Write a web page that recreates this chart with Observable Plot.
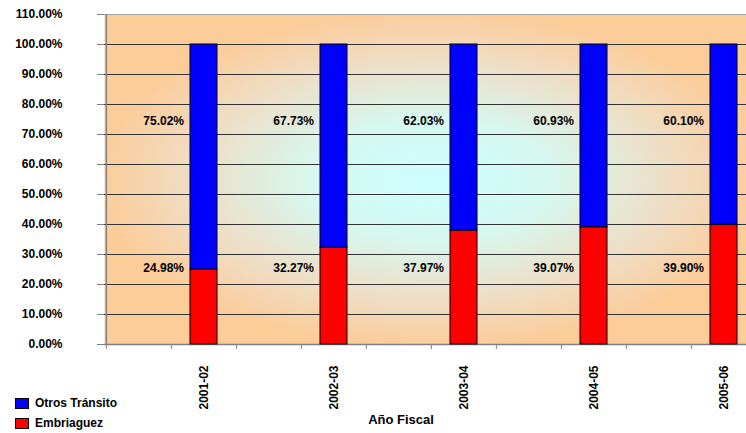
<!DOCTYPE html>
<html>
<head>
<meta charset="utf-8">
<script src="https://cdn.jsdelivr.net/npm/d3@7"></script>
<script src="https://cdn.jsdelivr.net/npm/@observablehq/plot@0.6"></script>
<style>
  html, body { margin: 0; padding: 0; background: #fff; overflow: hidden; }
  #wrap { position: relative; width: 746px; height: 433px; overflow: hidden; }
  #chart svg { max-width: none !important; display: block; }
  #legend { position: absolute; left: 15px; top: 393px; font: bold 12px "Liberation Sans", Arial, sans-serif; color: #000; }
  .li { display: flex; align-items: center; height: 20px; }
  .sw { width: 12px; height: 9px; border: 1px solid #000; margin-right: 6px; }
</style>
</head>
<body>
<div id="wrap">
  <div id="chart"></div>
  <div id="legend"></div>
</div>
<script>
// ---- data ----
const years = ["2001-02", "2002-03", "2003-04", "2004-05", "2005-06"];
const embriaguez = [24.98, 32.27, 37.97, 39.07, 39.90];
const otrosTransito = [75.02, 67.73, 62.03, 60.93, 60.10];
const seriesNames = ["Embriaguez", "Otros Tránsito"];
const seriesColors = ["#ff0000", "#0000ff"];
const yTicks = [0, 10, 20, 30, 40, 50, 60, 70, 80, 90, 100, 110];

// slots: an empty slot before each fiscal year (as in the original chart)
const slots = years.flatMap((y, i) => ["_gap" + i, y]);

const rows = [];
years.forEach((y, i) => {
  rows.push({year: y, serie: seriesNames[0], value: embriaguez[i]});
  rows.push({year: y, serie: seriesNames[1], value: otrosTransito[i]});
});

const W = 758, H = 433, ML = 104, MR = 1, MT = 14, MB = 89;
const bw = (W - ML - MR) / slots.length;
const font = "Liberation Sans, Arial, sans-serif";

const plot = Plot.plot({
  width: W,
  height: H,
  marginLeft: ML,
  marginRight: MR,
  marginTop: MT,
  marginBottom: MB,
  style: {fontFamily: font, fontSize: "12px", fontWeight: "bold", color: "#000", background: "transparent", overflow: "visible", maxWidth: "none"},
  x: {type: "band", domain: slots, padding: 0, axis: null},
  y: {domain: [0, 110], axis: null},
  color: {domain: seriesNames, range: seriesColors},
  marks: [
    Plot.frame({fill: "url(#bgGrad)", stroke: null}),
    Plot.ruleY(yTicks.filter(d => d > 0 && d < 110), {stroke: "#333", strokeWidth: 1}),
    Plot.ruleY([110], {stroke: "#a0a0a0", strokeWidth: 1}),
    Plot.ruleY([0], {stroke: "#808080", strokeWidth: 1.5}),
    Plot.ruleX([slots[0]], {dx: -bw / 2, stroke: "#808080", strokeWidth: 1.5}),
    Plot.axisY({
      ticks: yTicks,
      tickFormat: d => d.toFixed(2) + "%",
      tickSize: 7,
      tickPadding: 35,
      stroke: "#808080",
      label: null
    }),
    Plot.axisX({
      ticks: slots,
      tickFormat: () => "",
      tickSize: 5,
      dx: -bw / 2,
      stroke: "#808080",
      label: null
    }),
    Plot.axisX({
      ticks: years,
      tickSize: 0,
      tickPadding: 21,
      tickRotate: -90,
      label: null
    }),
    Plot.barY(rows, Plot.stackY({
      x: "year",
      y: "value",
      fill: "serie",
      order: seriesNames,
      stroke: "#000",
      strokeWidth: 1,
      insetLeft: 19,
      insetRight: 19
    })),
    Plot.text(years, {
      x: d => d,
      y: () => 74.5,
      text: (d, i) => otrosTransito[i].toFixed(2) + "%",
      textAnchor: "end",
      dx: -20,
      fill: "#000"
    }),
    Plot.text(years, {
      x: d => d,
      y: () => 25.3,
      text: (d, i) => embriaguez[i].toFixed(2) + "%",
      textAnchor: "end",
      dx: -20,
      fill: "#000"
    }),
    Plot.text(["Año Fiscal"], {
      frameAnchor: "bottom",
      dy: 79,
      dx: -30,
      fontSize: 13,
      fill: "#000"
    })
  ]
});

const defs = d3.select(plot).insert("defs", ":first-child");
const g = defs.append("radialGradient").attr("id", "bgGrad")
  .attr("cx", "0.5").attr("cy", "0.5").attr("r", "0.6");
g.append("stop").attr("offset", "0").attr("stop-color", "#ccffff");
g.append("stop").attr("offset", "0.3").attr("stop-color", "#d6f8f0");
g.append("stop").attr("offset", "0.6").attr("stop-color", "#eedec6");
g.append("stop").attr("offset", "0.85").attr("stop-color", "#fccc99");
g.append("stop").attr("offset", "1").attr("stop-color", "#fccc99");

document.getElementById("chart").appendChild(plot);

// legend (blue first, as in the original)
const legend = d3.select("#legend");
[1, 0].forEach(i => {
  const item = legend.append("div").attr("class", "li");
  item.append("div").attr("class", "sw").style("background", seriesColors[i]);
  item.append("span").text(seriesNames[i]);
});
</script>
</body>
</html>
